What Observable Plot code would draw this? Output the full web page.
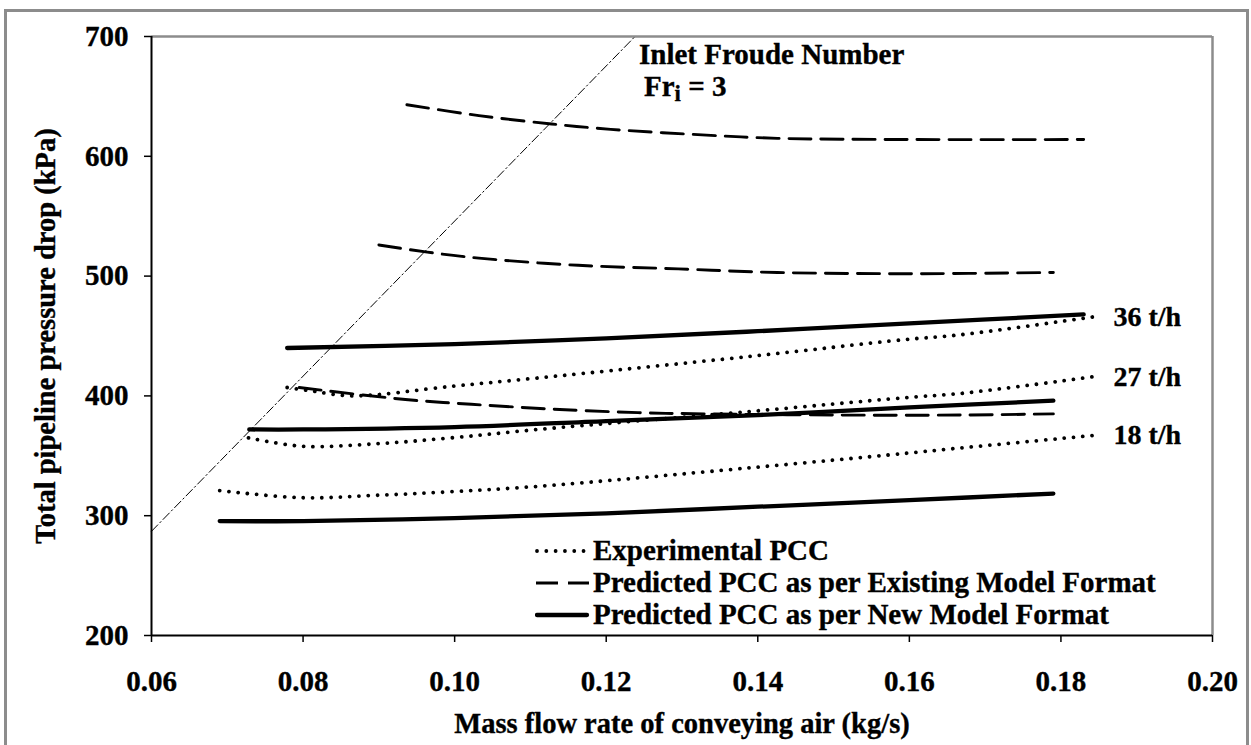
<!DOCTYPE html>
<html><head><meta charset="utf-8">
<script src="https://cdn.jsdelivr.net/npm/d3@7"></script>
<script src="https://cdn.jsdelivr.net/npm/@observablehq/plot@0.6"></script>
<style>
html,body{margin:0;padding:0;background:#fff;}
#wrap{position:relative;width:1251px;height:745px;overflow:hidden;font-family:"Liberation Serif","Times New Roman",serif;font-weight:bold;color:#000;}
#outer{position:absolute;left:4px;top:9px;width:1245px;height:770px;border:3px solid #8c8c8c;box-sizing:border-box;}
#chart{position:absolute;left:0;top:0;}
#chart svg text{paint-order:stroke;stroke:#000;stroke-width:0.35px;}
.note{position:absolute;white-space:nowrap;font-size:29px;line-height:1;-webkit-text-stroke:0.35px #000;}
.note sub{font-size:0.78em;vertical-align:-0.2em;line-height:0;}
#legend{position:absolute;left:535px;top:0;width:700px;height:0;}
.lrow{position:absolute;left:0;height:29px;font-size:29px;line-height:1;white-space:nowrap;-webkit-text-stroke:0.35px #000;}
.lrow svg{position:absolute;left:0;top:10px;}
.lrow span{position:absolute;left:58px;top:0;}
</style></head>
<body><div id="wrap"><div id="outer"></div><div id="chart"></div>
<div class="note" style="left:639px;top:40px">Inlet Froude Number</div>
<div class="note" style="left:644px;top:72px">Fr<sub>i</sub> = 3</div>
<div id="legend"></div></div>
<script>
// ---- data ----
const xTicks = [0.06, 0.08, 0.10, 0.12, 0.14, 0.16, 0.18, 0.20];
const yTicks = [200, 300, 400, 500, 600, 700];
const rateLabels = ["18 t/h", "27 t/h", "36 t/h"];
const seriesNames = ["Experimental PCC", "Predicted PCC as per Existing Model Format", "Predicted PCC as per New Model Format"];

// Experimental PCC (dotted)
const exp18 = [[0.069,321],[0.0799,315],[0.0896,317],[0.0996,320],[0.111,324.5],[0.139,340],[0.1594,352],[0.1667,356.5],[0.1843,367]];
const exp27 = [[0.0728,365],[0.0799,358],[0.0896,360],[0.0996,365],[0.111,372],[0.139,387],[0.1594,398.5],[0.1667,402],[0.1843,416]];
const exp36 = [[0.0779,407],[0.0813,404],[0.0865,400],[0.0996,408],[0.111,415],[0.139,433],[0.1594,447],[0.1667,451],[0.1843,466]];

// Existing model (dashed)
const old18 = [[0.0795,407],[0.0935,397],[0.1022,393],[0.1128,389],[0.1242,386],[0.133,385],[0.1505,384],[0.1667,384],[0.179,385]];
const old27 = [[0.09,526],[0.0964,520],[0.1032,515],[0.1163,509],[0.1295,506],[0.1426,503],[0.16,502],[0.179,503]];
const old36 = [[0.0937,643],[0.1032,634],[0.1128,627],[0.1206,622.5],[0.1338,617.5],[0.1426,615],[0.16,614],[0.183,614]];

// New model (solid)
const new18 = [[0.069,295.5],[0.08,295.5],[0.10,298],[0.12,302],[0.14,307.5],[0.16,313],[0.179,318.5]];
const new27 = [[0.0729,372],[0.08,372],[0.10,374],[0.12,379],[0.14,384],[0.16,390.5],[0.179,396]];
const new36 = [[0.0779,440],[0.10,443.3],[0.12,448],[0.14,454],[0.16,460.5],[0.183,468]];

// Inlet Froude number Fr_i = 3 line
const froude = [[0.06,287],[0.1238,700]];

// ---- styles ----
const FONT = '"Liberation Serif","Times New Roman",serif';
const dotted = {stroke:"#000", strokeWidth:3.8, strokeDasharray:"0.01,9.3", strokeLinecap:"round", curve:"catmull-rom"};
const dashed = {stroke:"#000", strokeWidth:2.9, strokeDasharray:"22,10", curve:"catmull-rom"};
const solid  = {stroke:"#000", strokeWidth:4.3, strokeLinecap:"round", curve:"catmull-rom"};
const X = d => d[0], Y = d => d[1];

const endLabels = [exp18, exp27, exp36].map((s, i) => ({x: s[s.length-1][0], y: s[s.length-1][1], label: rateLabels[i]}));

const chart = Plot.plot({
  width: 1251, height: 745,
  marginLeft: 151, marginRight: 39, marginTop: 36, marginBottom: 110,
  style: {fontFamily: FONT, fontWeight: "bold", color: "#000", background: "transparent", overflow: "visible"},
  x: {domain: [0.06, 0.20]},
  y: {domain: [200, 700]},
  marks: [
    Plot.ruleY([700], {stroke: "#8c8c8c", strokeWidth: 2.5}),
    Plot.ruleX([0.20], {stroke: "#8c8c8c", strokeWidth: 2.5}),
    Plot.axisX({ticks: xTicks, tickFormat: d3.format(".2f"), tickSize: 7, tickPadding: 28, fontSize: 29, label: null, strokeWidth: 1.5}),
    Plot.axisY({ticks: yTicks, tickFormat: d3.format("d"), tickSize: 7, tickPadding: 16, fontSize: 29, label: null, strokeWidth: 1.5}),
    Plot.ruleX([0.06], {stroke: "#000", strokeWidth: 2}),
    Plot.ruleY([200], {stroke: "#000", strokeWidth: 2}),
    Plot.line(froude, {x: X, y: Y, stroke: "#000", strokeWidth: 1, strokeDasharray: "9,3,1.5,3"}),
    Plot.line(old18, {x: X, y: Y, ...dashed}),
    Plot.line(old27, {x: X, y: Y, ...dashed}),
    Plot.line(old36, {x: X, y: Y, ...dashed}),
    Plot.line(new18, {x: X, y: Y, ...solid}),
    Plot.line(new27, {x: X, y: Y, ...solid}),
    Plot.line(new36, {x: X, y: Y, ...solid}),
    Plot.line(exp18, {x: X, y: Y, ...dotted}),
    Plot.line(exp27, {x: X, y: Y, ...dotted}),
    Plot.line(exp36, {x: X, y: Y, ...dotted}),
    Plot.text(endLabels, {x: "x", y: "y", text: "label", dx: 20, textAnchor: "start", fontSize: 28, fill: "#000"}),
    Plot.text(["Mass flow rate of conveying air (kg/s)"], {text: d => d, frameAnchor: "bottom", dy: 88, textAnchor: "middle", fontSize: 28.5, lineAnchor: "middle", fill: "#000"}),
    Plot.text(["Total pipeline pressure drop (kPa)"], {text: d => d, frameAnchor: "left", dx: -106, rotate: -90, textAnchor: "middle", fontSize: 28.5, lineAnchor: "middle", fill: "#000"})
  ]
});
document.getElementById("chart").appendChild(chart);

// ---- legend ----
const legendStyles = [
  {w: 3.8, dash: "0.01,9.3", cap: "round", x1: 2, x2: 50},
  {w: 2.9, dash: "22,10", cap: "butt", x1: 1, x2: 54},
  {w: 4.3, dash: null, cap: "round", x1: 2, x2: 52}
];
const rowCenters = [551, 583, 615];
const legend = document.getElementById("legend");
seriesNames.forEach((name, i) => {
  const row = document.createElement("div");
  row.className = "lrow";
  row.style.top = (rowCenters[i] - 14.7) + "px";
  const s = legendStyles[i];
  row.innerHTML = `<svg width="56" height="10"><line x1="${s.x1}" x2="${s.x2}" y1="5" y2="5" stroke="#000" stroke-width="${s.w}" stroke-linecap="${s.cap}" ${s.dash ? `stroke-dasharray="${s.dash}"` : ""}/></svg><span>${name}</span>`;
  legend.appendChild(row);
});
</script>
</body></html>
